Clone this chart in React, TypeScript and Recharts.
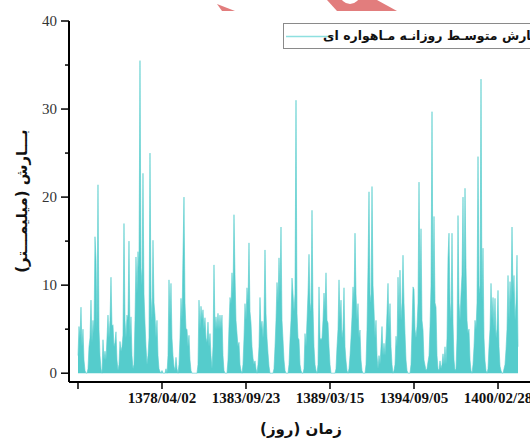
import { AreaChart, Area, XAxis, YAxis } from "recharts";

// one reading per ~24 days (the width of one screen column in the source plot)
const dayStep = 2000 / 84;

// daily satellite rainfall, maximum over each 24-day slot (mm)
const rainMm = [
  2, 5.3, 4, 7.5, 3, 5, 1.5, 0.3, 0, 0,
  0.5, 3, 4, 8.3, 3.5, 6, 4.5, 15.5, 13, 5,
  21.4, 5, 2, 0.5, 0, 3.8, 1.5, 2.5, 1.5, 4,
  6.6, 4, 6, 10.9, 5.3, 5.5, 3, 3.5, 4.7, 1.5,
  0.3, 1, 3.6, 2.5, 3, 4.3, 17, 6, 4, 6.6,
  6, 15, 4, 6.4, 2, 0.5, 1, 6, 13.2, 9,
  13.8, 12, 35.5, 12, 10, 22.7, 9, 5.7, 3, 1,
  2, 4, 25, 8.6, 6, 15.1, 8, 6.6, 4, 6,
  2, 0.5, 0.2, 0, 0.3, 0, 0, 0, 0.5, 0,
  2, 10.6, 6, 10.2, 4, 2, 0.8, 0.3, 1.8, 0.5,
  0, 1, 4, 8.5, 6, 13.5, 20, 8, 5, 5,
  3, 4.3, 1.5, 0.3, 0, 0, 0, 0, 0, 0,
  1, 8.3, 5, 7.6, 6, 7.2, 5, 6.3, 4, 3.5,
  5.8, 3, 4.5, 2, 0.5, 3, 12.3, 5, 6.4, 5,
  6.8, 5, 6.6, 5, 6.6, 2, 0.3, 0, 0, 0,
  1.5, 5.3, 8.6, 7.9, 11.4, 9, 18, 11.2, 6, 4.5,
  3, 3.5, 1, 0.3, 0, 1, 4, 7.9, 6, 9.7,
  8, 14.8, 7, 5.7, 3, 1.7, 1, 1.4, 0.5, 0,
  1, 3, 8.6, 5, 5.9, 4, 6, 14, 6.8, 4,
  2.3, 0.8, 0, 0, 0, 0, 0.5, 3, 6, 10.3,
  8, 13.1, 9, 16.6, 6, 3.8, 1.5, 0.3, 0, 0,
  0, 1, 3.8, 6, 10.8, 9, 7, 9, 31, 6.8,
  4, 3.8, 1, 0.3, 0, 0, 0.5, 4.5, 3, 6,
  9, 13.5, 8, 7, 18.5, 7.5, 3, 1, 0.3, 0,
  1, 9.8, 4, 3.8, 4, 6, 9.1, 7, 11.4, 6,
  5.7, 3, 1, 0, 0, 0, 0, 0, 0.5, 3,
  5, 10.6, 6, 8.3, 4, 5, 9.7, 3, 1.4, 0.3,
  0, 0.5, 2, 4, 6.4, 9.8, 8, 15.9, 9, 6,
  7.9, 4, 4.9, 1.5, 0.3, 0, 0, 0, 1, 5,
  12, 20.6, 9, 8, 21.2, 10, 7.2, 4, 6, 2,
  0.5, 2, 1, 3, 5.3, 2, 3.4, 2, 4, 6.8,
  10.2, 5, 7.9, 3, 1, 0, 0.3, 1, 4.2, 3,
  10.9, 6, 11.7, 6, 8, 13.4, 8, 4.5, 1.5, 0.3,
  0, 0, 0, 1, 5, 9.8, 9.5, 5, 4, 5.3,
  8, 21.7, 9, 16.4, 6, 4.9, 1.5, 0.9, 0.3, 0.5,
  1.3, 2, 5.3, 10, 29.7, 9, 17.8, 8, 7.5, 2,
  0.5, 0.3, 1.4, 0.5, 1, 2.2, 1, 3, 1, 4,
  13.1, 15.9, 8, 6, 15.9, 5.7, 1.5, 0.3, 0.5, 4,
  17.9, 8, 6, 9, 11.2, 20, 9, 21, 12, 6,
  4.5, 5, 1.5, 0.3, 0, 1, 3, 6, 5, 8,
  24.6, 10, 9, 33.4, 8, 14.2, 4, 1.4, 0.3, 0,
  0.5, 3, 5, 10.2, 6, 8.6, 5, 8.5, 4, 5,
  9.4, 3, 0.8, 0.3, 0, 0, 0.5, 1, 2.7, 5,
  11.1, 6, 10.4, 8, 16.6, 9, 11.1, 6, 8, 13.4, 3,
];

const dateTicks = [0, 2000, 4000, 6000, 8000, 10000];
const dateLabels = ["", "1378/04/02", "1383/09/23", "1389/03/15", "1394/09/05", "1400/02/28"];
const dayDomain = [-214, 10833];

const rainTicks = [0, 5, 10, 15, 20, 25, 30, 35, 40];
const rainDomain = [-1, 40];

const seriesName = "بـارش متوسـط روزانـه مـاهواره ای";
const yTitle = "بـــارش (میلیمـــتر)";
const xTitle = "زمان (روز)";

const teal = "#55cccc";
const serif = '"Liberation Serif", "Times New Roman", serif';
const faFont = '"DejaVu Sans", sans-serif';

const data = rainMm.map((v, i) => ({ day: i * dayStep, rain: v }));

function RainTick(props: any) {
  const { x, y, payload } = props;
  const major = payload.value % 10 === 0;
  const axisX = x + 12; // tickSize 8 + tickMargin 4
  const len = major ? 8 : 4;
  return (
    <g>
      <line x1={axisX - len} x2={axisX} y1={y} y2={y} stroke="#000" strokeWidth={1.5} />
      {major && (
        <text x={x} y={y} dy={5} textAnchor="end" fill="#333" fontSize={15} fontFamily={serif}>
          {payload.value}
        </text>
      )}
    </g>
  );
}

export default function App() {
  return (
    <div style={{ position: "relative", width: 530, height: 447, overflow: "hidden", background: "#fff" }}>
      <style>{"body{margin:0}"}</style>
      <AreaChart width={553} height={447} data={data} margin={{ top: 21, right: 20, bottom: 35, left: 0 }}>
        <XAxis
          dataKey="day"
          type="number"
          domain={dayDomain}
          ticks={dateTicks}
          interval={0}
          tickFormatter={(d: number) => dateLabels[dateTicks.indexOf(d)] ?? ""}
          height={30}
          tickSize={7}
          tickMargin={3}
          axisLine={{ stroke: "#000", strokeWidth: 2 }}
          tickLine={{ stroke: "#000", strokeWidth: 1.5 }}
          tick={{ fill: "#111", fontSize: 15, fontWeight: 700, fontFamily: serif }}
        />
        <YAxis
          type="number"
          domain={rainDomain}
          ticks={rainTicks}
          interval={0}
          width={69}
          tickSize={8}
          tickMargin={4}
          tickLine={false}
          axisLine={{ stroke: "#000", strokeWidth: 2 }}
          tick={<RainTick />}
        />
        <Area
          dataKey="rain"
          name={seriesName}
          type="linear"
          baseValue={0}
          stroke={teal}
          strokeWidth={0.6}
          fill={teal}
          fillOpacity={1}
          dot={false}
          activeDot={false}
          isAnimationActive={false}
        />
      </AreaChart>

      <svg width={530} height={447} style={{ position: "absolute", left: 0, top: 0, pointerEvents: "none" }}>
        {/* bits of a red watermark at the top edge */}
        <polygon points="217,4 222,11 235,11" fill="#e27d7d" />
        <polygon points="327,0 337,11 397,11 377,0" fill="#e27d7d" />
        <circle cx={350} cy={-6} r={10} fill="#fff" />
        <text
          transform="translate(22,201) rotate(-90)"
          textAnchor="middle"
          dominantBaseline="central"
          direction="rtl"
          fontFamily={faFont}
          fontWeight={700}
          fontSize={15}
          fill="#111"
        >
          {yTitle}
        </text>
        <text x={301} y={434} textAnchor="middle" direction="rtl" fontFamily={faFont} fontWeight={700} fontSize={15} fill="#111">
          {xTitle}
        </text>
      </svg>

      <div
        style={{
          position: "absolute",
          left: 283,
          top: 23,
          width: 262,
          height: 26,
          border: "1px solid #8a8a8a",
          background: "#fff",
          boxSizing: "border-box",
        }}
      >
        <svg width={48} height={24} style={{ position: "absolute", left: 1, top: 0 }}>
          <line x1={1} x2={47} y1={12.5} y2={12.5} stroke="#8ee0e0" strokeWidth={1.6} />
        </svg>
        <div
          dir="rtl"
          style={{
            position: "absolute",
            right: 4,
            top: 2,
            fontFamily: faFont,
            fontWeight: 700,
            fontSize: 12.5,
            lineHeight: "20px",
            color: "#111",
            whiteSpace: "nowrap",
          }}
        >
          {seriesName}
        </div>
      </div>
    </div>
  );
}
